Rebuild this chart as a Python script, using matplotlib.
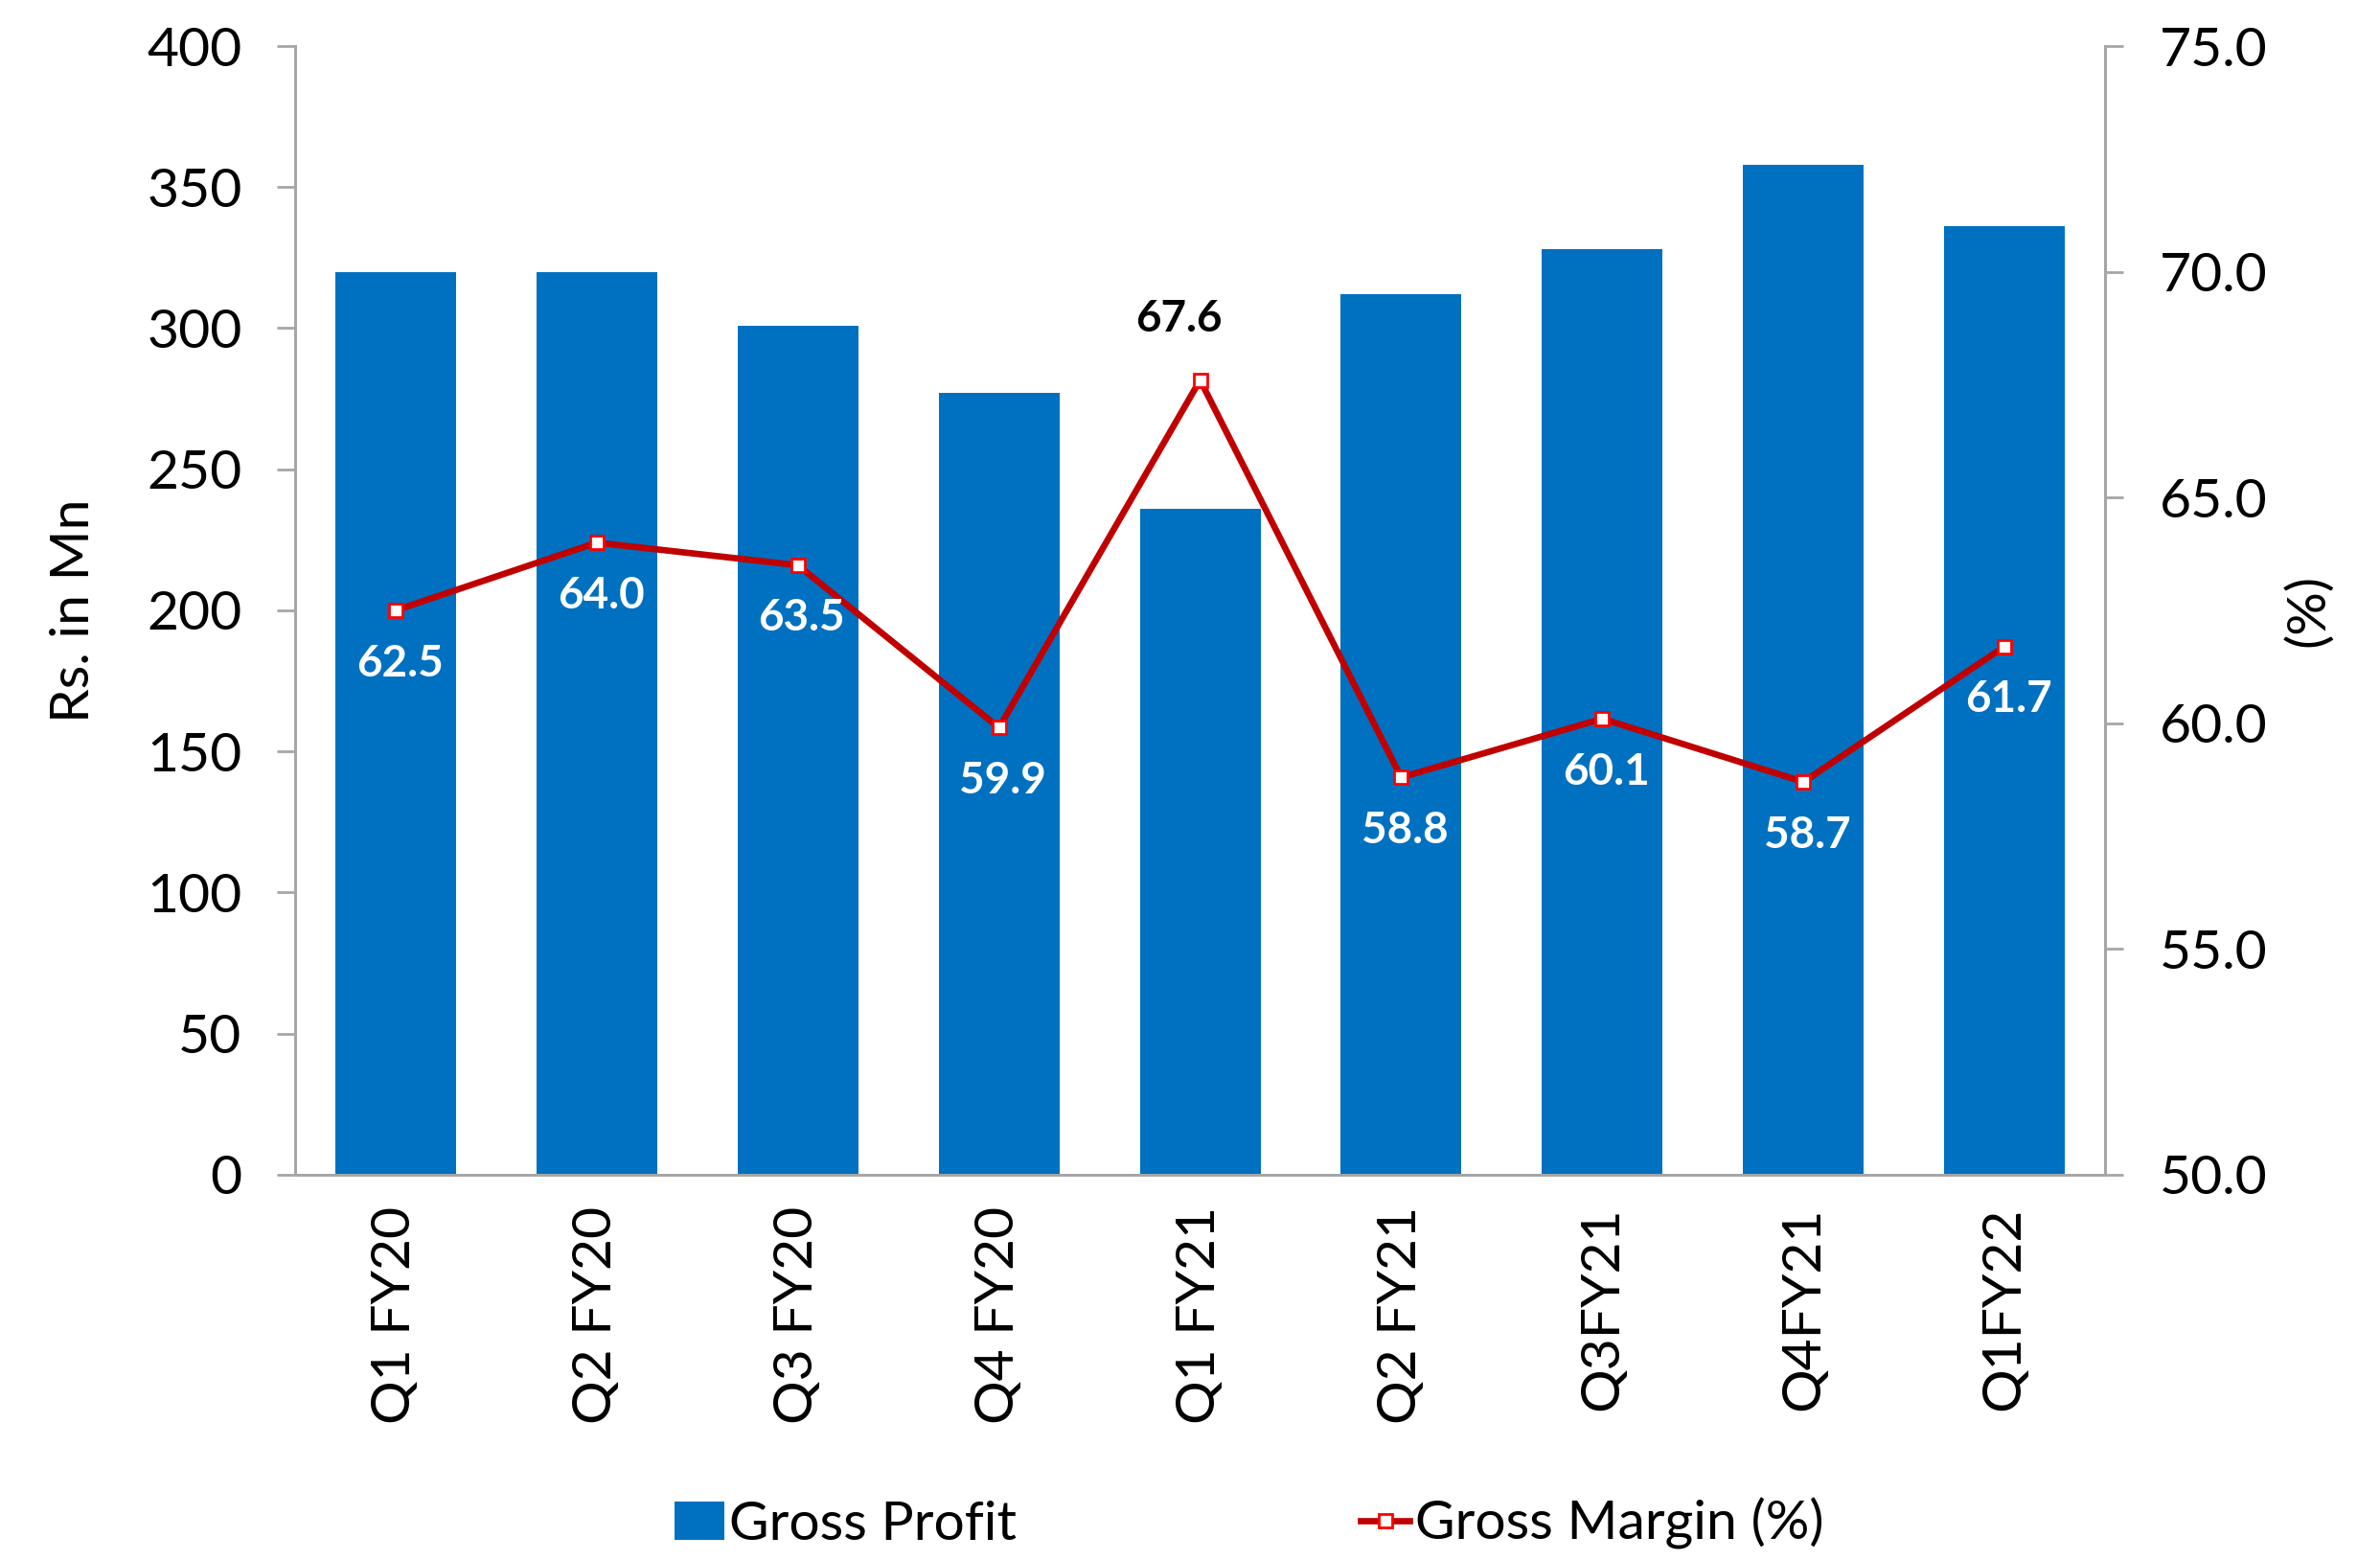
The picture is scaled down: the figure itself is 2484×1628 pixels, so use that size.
import matplotlib.pyplot as plt
from matplotlib.lines import Line2D
from matplotlib.patches import Patch

plt.rcParams['font.family'] = ['Lato', 'DejaVu Sans']

quarters = ["Q1 FY20", "Q2 FY20", "Q3 FY20", "Q4 FY20", "Q1 FY21",
            "Q2 FY21", "Q3FY21", "Q4FY21", "Q1FY22"]
gross_profit = [320, 320, 301, 277, 236, 312, 328, 358, 336]
gross_margin = [62.5, 64.0, 63.5, 59.9, 67.6, 58.8, 60.1, 58.7, 61.7]

BAR = "#0070C0"
LINE = "#C00000"
GREY = "#A6A6A6"

fig = plt.figure(figsize=(24.84, 16.28), dpi=100)
ax = fig.add_axes([0.124, 0.247, 0.7605, 0.7235])
ax2 = ax.twinx()

x = range(len(quarters))
ax.bar(x, gross_profit, width=0.6, color=BAR, zorder=2)
ax2.plot(x, gross_margin, color=LINE, lw=4.8, marker="s", ms=10,
         mfc="white", mec="#FF0000", mew=2, zorder=3)

ax.set_xlim(-0.5, len(quarters) - 0.5)
ax.set_ylim(0, 400)
ax.set_yticks(range(0, 401, 50))
ax2.set_ylim(50, 75)
ax2.set_yticks([50, 55, 60, 65, 70, 75])
ax2.set_yticklabels(["%.1f" % v for v in [50, 55, 60, 65, 70, 75]])

ax.set_xticks(list(x))
ax.set_xticklabels(quarters, rotation=90)

for a in (ax, ax2):
    a.spines["top"].set_visible(False)
    for s in ("left", "right", "bottom"):
        a.spines[s].set_color(GREY)
        a.spines[s].set_linewidth(2)
    a.tick_params(axis="both", labelsize=41, color=GREY, width=2, length=14,
                  direction="out")
ax.tick_params(axis="x", length=0, pad=24)
ax.tick_params(axis="y", pad=26)
ax2.tick_params(axis="y", pad=27)

ax.set_ylabel("Rs. in Mn", fontsize=41, labelpad=36)
ax2.set_ylabel("(%)", fontsize=41, labelpad=12)

# data labels: white inside the bars, black for the one above
for i, v in enumerate(gross_margin):
    if i == 4:
        ax2.annotate("%.1f" % v, (i, v), xytext=(-16, 46),
                     textcoords="offset points", ha="center", va="center",
                     fontsize=33, fontweight="bold", color="black")
    else:
        ax2.annotate("%.1f" % v, (i, v), xytext=(3, -40),
                     textcoords="offset points", ha="center", va="center",
                     fontsize=33, fontweight="bold", color="white")

handles = [
    Patch(facecolor=BAR, label="Gross Profit"),
    Line2D([], [], color=LINE, lw=4.8, marker="s", ms=10, mfc="white",
           mec="#FF0000", mew=2, label="Gross Margin (%)"),
]
fig.legend(handles=handles, loc="lower center", bbox_to_anchor=(0.525, -0.025),
           ncol=2, frameon=False, fontsize=41, columnspacing=6.3,
           handlelength=0.9, handletextpad=0.1)

fig.savefig("out.png", dpi=100)
